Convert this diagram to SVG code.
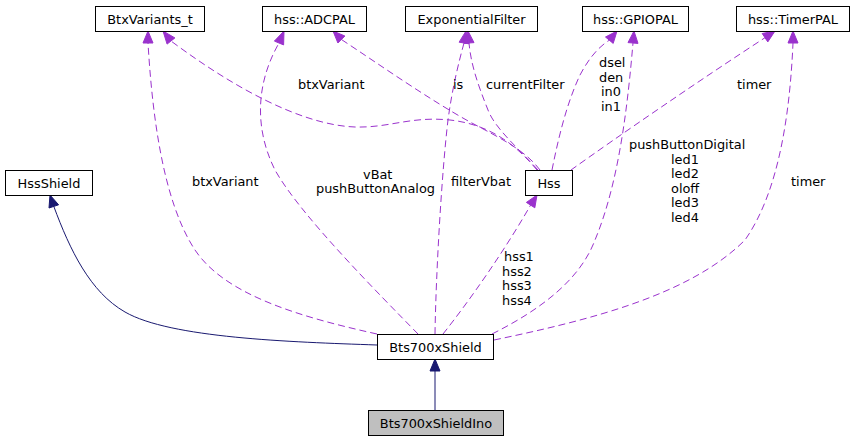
<svg xmlns="http://www.w3.org/2000/svg" width="855" height="441" viewBox="0 0 855 441">
<style>
.node rect{fill:#ffffff;stroke:#000000;stroke-width:1}
.node text{font-family:"DejaVu Sans",sans-serif;font-size:12.9px;text-anchor:middle;fill:#000000}
.dep{fill:none;stroke:#9a32cd;stroke-width:1;stroke-dasharray:7,4}
.deph{fill:#9a32cd;stroke:#9a32cd;stroke-width:1}
.inh{fill:none;stroke:#191970;stroke-width:1}
.inhh{fill:#191970;stroke:#191970;stroke-width:1}
.lbl{font-family:"DejaVu Sans",sans-serif;font-size:12.9px;fill:#000000}
</style>
<rect width="855" height="441" fill="#ffffff"/>
<g id="connectors">
<path class="dep" d="M377,334 C300,317 225,295 195,250 C162,200 152,110 148,43"/>
<polygon class="deph" points="143,43 148,31 153,43"/>
<path class="dep" d="M537,170 C520,150 495,125 450,120 C410,116 390,128 355,127 C300,125 230,85 171,41"/>
<polygon class="deph" points="174.9,37.9 163,31 167.1,44.1"/>
<path class="dep" d="M418,334 C380,295 300,215 275,170 C255,130 255,85 279,43"/>
<polygon class="deph" points="274.4,41.1 284,31 283.6,44.9"/>
<path class="dep" d="M540,170 C525,150 500,138 470,122 C430,100 380,65 341.4,39.5"/>
<polygon class="deph" points="344.9,36 333,31 337.9,43"/>
<path class="dep" d="M435,334 C436,270 442,170 448,120 C452,90 458,65 464,43"/>
<polygon class="deph" points="468.9,43.8 466,31 459.1,42.2"/>
<path class="dep" d="M538,170 C515,145 495,128 488,110 C478,85 471,65 469,43"/>
<polygon class="deph" points="474,42.6 468,31 464,43.4"/>
<path class="dep" d="M443,334 C470,300 505,250 530.6,205.1"/>
<polygon class="deph" points="534.8,207.8 537,195 526.4,202.4"/>
<path class="dep" d="M492,334 C540,310 580,280 595,240 C620,180 628,100 633,43"/>
<polygon class="deph" points="628,42.6 634,31 638,43.4"/>
<path class="dep" d="M552,170 C558,140 566,105 580,75 C588,60 597,48 609.3,40.2"/>
<polygon class="deph" points="613.2,43.4 617,31 605.5,37"/>
<path class="dep" d="M571,170 C620,135 700,80 765,37.7"/>
<polygon class="deph" points="767.8,41.9 775,31 762.2,33.5"/>
<path class="dep" d="M494,340 C590,320 690,295 745,240 C780,190 790,110 793,43"/>
<polygon class="deph" points="788,43 793,31 798,43"/>
<path class="inh" d="M377,345 C290,342 170,338 125,312 C90,292 70,250 53.8,206.4"/>
<polygon class="inhh" points="58.6,204.8 50,195 49,208"/>
<path class="inh" d="M435,410 L435,371"/>
<polygon class="inhh" points="430,371 435,359 440,371"/>
<text class="lbl" x="298" y="89">btxVariant</text>
<text class="lbl" x="192" y="186">btxVariant</text>
<text class="lbl" x="363" y="179">vBat</text>
<text class="lbl" x="316" y="193">pushButtonAnalog</text>
<text class="lbl" x="453" y="89">is</text>
<text class="lbl" x="486" y="89">currentFilter</text>
<text class="lbl" x="599" y="67">dsel</text>
<text class="lbl" x="599" y="81.5">den</text>
<text class="lbl" x="601" y="96">in0</text>
<text class="lbl" x="601" y="110.5">in1</text>
<text class="lbl" x="737" y="89">timer</text>
<text class="lbl" x="451" y="186">filterVbat</text>
<text class="lbl" x="629" y="149">pushButtonDigital</text>
<text class="lbl" x="671" y="163.5">led1</text>
<text class="lbl" x="671" y="178">led2</text>
<text class="lbl" x="671" y="192.5">oloff</text>
<text class="lbl" x="671" y="207">led3</text>
<text class="lbl" x="671" y="221.5">led4</text>
<text class="lbl" x="791" y="186">timer</text>
<text class="lbl" x="504" y="261">hss1</text>
<text class="lbl" x="502" y="275.5">hss2</text>
<text class="lbl" x="502" y="290">hss3</text>
<text class="lbl" x="502" y="304.5">hss4</text>
</g>
<g id="BtxVariants_t" class="node"><rect x="95.5" y="6.5" width="109" height="25"/><text x="150" y="23.5">BtxVariants_t</text></g>
<g id="hss_ADCPAL" class="node"><rect x="262.5" y="6.5" width="104" height="25"/><text x="314.5" y="23.5">hss::ADCPAL</text></g>
<g id="ExponentialFilter" class="node"><rect x="405.5" y="6.5" width="132" height="25"/><text x="471.5" y="23.5">ExponentialFilter</text></g>
<g id="hss_GPIOPAL" class="node"><rect x="582.5" y="6.5" width="106" height="25"/><text x="635.5" y="23.5">hss::GPIOPAL</text></g>
<g id="hss_TimerPAL" class="node"><rect x="736.5" y="6.5" width="113" height="25"/><text x="793" y="23.5">hss::TimerPAL</text></g>
<g id="HssShield" class="node"><rect x="5.5" y="170.5" width="87" height="25"/><text x="49" y="187.5">HssShield</text></g>
<g id="Hss" class="node"><rect x="525.5" y="170.5" width="47" height="25"/><text x="549" y="187.5">Hss</text></g>
<g id="Bts700xShield" class="node"><rect x="377.5" y="334.5" width="116" height="25"/><text x="435.5" y="351.5">Bts700xShield</text></g>
<g id="Bts700xShieldIno" class="node"><rect x="368.5" y="410.5" width="135" height="25" style="fill:#bfbfbf"/><text x="436" y="427.5">Bts700xShieldIno</text></g>
</svg>
